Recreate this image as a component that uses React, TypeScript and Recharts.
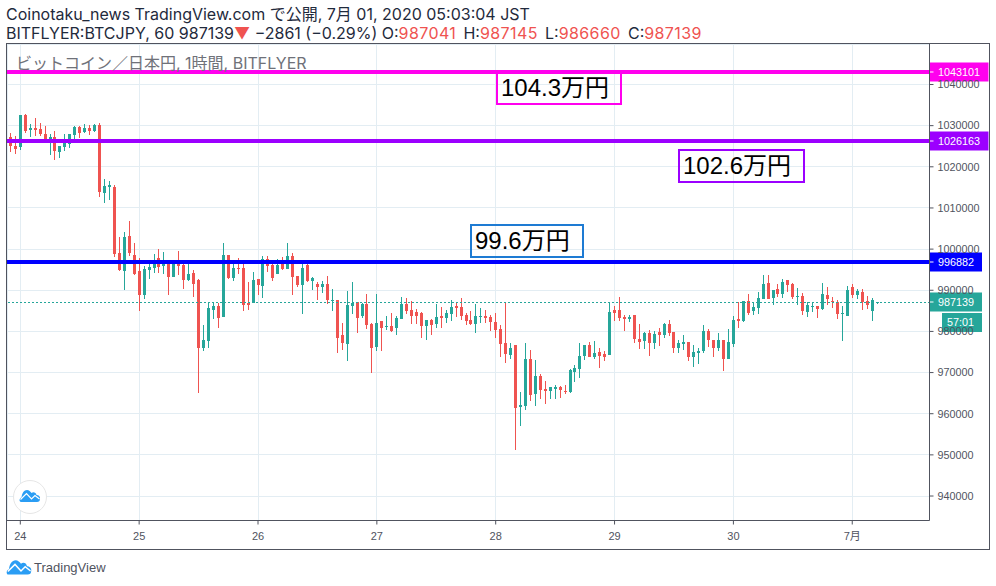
import {
  ComposedChart,
  Bar,
  XAxis,
  YAxis,
  CartesianGrid,
  ReferenceLine,
} from "recharts";

const FONT = '"Liberation Sans", "Noto Sans CJK JP", sans-serif';
const HEAD_FONT = 'Inter, "Noto Sans CJK JP", sans-serif';
const UP = "#26a69a";
const DOWN = "#ef5350";
const AXIS = "#50535e";

const firstHour = -3;

const opens = [
  1030650, 1027323, 1025133, 1024728, 1032675, 1029026, 1029513, 1029269, 1028053, 1026025,
  1027323, 1023673, 1024890, 1025620, 1027809, 1029756, 1028539, 1029513, 1028783, 1030242,
  1013698, 1015158, 1015158, 999100, 994721, 1003236, 998613, 994721, 988881, 994964,
  995451, 997884, 995937, 996586, 993261, 996586, 996180, 992531, 994234, 992531,
  975987, 977690, 985232, 986205, 983529, 998613, 993018, 995451, 995451, 986935,
  986935, 992774, 991071, 997640, 996180, 993991, 996586, 995207, 998370, 993504,
  991314, 996180, 992288, 991558, 990828, 991558, 987421, 987664, 979149, 976959,
  986205, 987178, 983772, 986691, 981825, 976229, 982555, 981095, 981339, 980852,
  983042, 986691, 985231, 984745, 984502, 981339, 982798, 981825, 983772, 983285,
  984258, 986205, 985961, 984015, 982798, 981825, 983528, 983772, 983528, 982312,
  980609, 977203, 974283, 976716, 961632, 961875, 973310, 964795, 969174, 966011,
  965525, 966011, 966498, 965525, 965281, 970147, 970877, 974040, 976716, 973797,
  975013, 974527, 974283, 985232, 985232, 983529, 983042, 984016, 978176, 977690,
  979636, 977203, 979879, 979150, 981826, 979879, 975987, 976960, 977446, 973797,
  974770, 975257, 980123, 977933, 975986, 977933, 973310, 976960, 983042, 982556,
  987422, 984989, 985719, 987908, 991801, 988152, 990341, 989125, 992531, 991558,
  988395, 988638, 984745, 985962, 986205, 985475, 988882, 987422, 987178, 984259,
  983772, 990828, 988882, 989611, 987422, 984989, 987041,
];

const highs = [
  1030650, 1028296, 1027566, 1032675, 1032919, 1030486, 1031946, 1030729, 1029999, 1028053,
  1028783, 1025133, 1028053, 1028053, 1029999, 1029999, 1030486, 1030242, 1030486, 1030729,
  1017104, 1016618, 1015644, 1002993, 1004209, 1006886, 1001533, 997884, 995937, 997397,
  998857, 1000073, 999343, 996910, 996910, 999587, 996586, 996586, 994964, 992774,
  981582, 987178, 987178, 986935, 1001533, 998613, 996586, 997884, 996586, 992044,
  994477, 992774, 998370, 998370, 996586, 997640, 998127, 1001533, 999100, 993504,
  996586, 996586, 993261, 992044, 992288, 993504, 990341, 987664, 982069, 989854,
  992125, 987178, 986935, 989124, 982069, 989124, 982555, 983772, 984502, 983772,
  988394, 988151, 987421, 985475, 984745, 982798, 983042, 986691, 985961, 985231,
  987664, 986935, 988151, 984502, 984988, 986691, 985718, 985231, 984015, 984502,
  981582, 987097, 977203, 976716, 965281, 977203, 975500, 973067, 969660, 967958,
  966498, 966985, 966741, 966985, 970877, 971850, 977203, 976716, 977446, 977690,
  975987, 975257, 987097, 986205, 988395, 984016, 984016, 984016, 981826, 979879,
  980366, 980123, 980853, 982069, 982799, 979879, 977933, 979149, 977446, 976716,
  975986, 981582, 980609, 977933, 979636, 977933, 980609, 983772, 987178, 987422,
  989125, 986935, 989611, 993747, 993747, 990098, 991558, 992774, 992531, 991801,
  990585, 989368, 987178, 987178, 986205, 991801, 990828, 988395, 987665, 986205,
  991071, 991558, 990341, 990341, 988638, 988152, 987145,
];

const lows = [
  1027000, 1023673, 1023187, 1024160, 1028296, 1027323, 1027566, 1027566, 1025863, 1022943,
  1021727, 1022214, 1023917, 1024647, 1026755, 1027080, 1028215, 1027809, 1028539, 1012725,
  1011265, 1011995, 998127, 994800, 990098, 998370, 993747, 984989, 987908, 992774,
  994234, 994234, 993991, 988881, 993261, 993747, 990341, 992288, 988395, 965038,
  975257, 975987, 983042, 980853, 983529, 992774, 992288, 993991, 984989, 985232,
  986935, 988881, 988152, 994477, 992288, 993991, 994964, 995207, 988881, 990828,
  984259, 992044, 990098, 987665, 989368, 986692, 984988, 974770, 975499, 972823,
  984258, 979636, 983285, 980609, 969904, 975256, 975256, 980365, 979879, 979149,
  983042, 984258, 981825, 981825, 978419, 977932, 979149, 980852, 980852, 982069,
  982555, 983528, 982798, 981582, 981582, 979636, 982069, 982069, 980122, 978419,
  973796, 972337, 973310, 951170, 957009, 960902, 963092, 961875, 963578, 962362,
  963578, 963578, 963822, 964795, 965038, 967714, 968688, 973067, 973797, 973310,
  971121, 972824, 974283, 982556, 982556, 980123, 982312, 977203, 975743, 975743,
  974040, 975743, 976473, 978420, 978906, 974770, 974770, 975500, 972824, 971364,
  972094, 974770, 976230, 973797, 975257, 970391, 973310, 976230, 980853, 982312,
  984016, 984016, 984259, 987908, 987908, 986449, 988395, 988152, 989611, 987908,
  986449, 984016, 983529, 984745, 983286, 985232, 986449, 985719, 983042, 977690,
  983772, 988152, 987908, 985232, 985475, 982556, 986660,
];

const closes = [
  1027000, 1024971, 1024403, 1032675, 1028783, 1029513, 1029026, 1028053, 1026593, 1027323,
  1023917, 1025133, 1025863, 1028053, 1029756, 1028296, 1029513, 1028783, 1030242, 1013941,
  1015401, 1015644, 998857, 994964, 1002993, 999100, 993991, 988881, 995207, 995694,
  996424, 995694, 996991, 993261, 996586, 995937, 992531, 993991, 991558, 975987,
  977933, 985719, 986205, 983286, 998613, 993018, 995451, 995207, 986448, 986448,
  992531, 991314, 997640, 995937, 993018, 996180, 995207, 998370, 993261, 991314,
  995451, 992288, 993018, 990828, 991558, 987665, 987664, 978419, 977203, 986448,
  986935, 983285, 986691, 981582, 975986, 982069, 980852, 981339, 980122, 983285,
  986691, 984988, 983772, 983772, 981339, 982798, 981582, 983528, 983285, 984502,
  985961, 985718, 983772, 982555, 981825, 983772, 983772, 983285, 982312, 980365,
  976959, 974527, 975987, 961389, 962118, 973310, 964552, 969174, 965768, 965525,
  966498, 966498, 965768, 965363, 970634, 971121, 974040, 976716, 973797, 974770,
  974040, 973797, 984745, 984502, 983286, 983042, 983529, 978176, 977446, 979636,
  977203, 979393, 979150, 981826, 979636, 975987, 977203, 977446, 973797, 975013,
  975257, 980123, 977933, 975986, 977933, 973310, 977446, 982799, 982556, 987422,
  984502, 985962, 988152, 991558, 987908, 990098, 989125, 992044, 991314, 988395,
  988638, 984989, 986449, 986205, 985475, 989125, 987908, 987178, 984259, 984502,
  990098, 988882, 989855, 987178, 986449, 987665, 987139,
];

const xTicks = [0, 24, 48, 72, 96, 120, 144, 168];
const xTickLabels = ["24", "25", "26", "27", "28", "29", "30", "7月"];
const yTicks = [
  940000, 950000, 960000, 970000, 980000, 990000, 1000000, 1010000, 1020000, 1030000, 1040000,
];

const levelPrices = [1043101, 1026163, 996882];
const levelColors = ["#ff00ee", "#9c00ff", "#0000ff"];
const lastPrice = 987139;
const countdown = "57:01";

const data = opens.map((open, i) => ({
  hour: firstHour + i,
  open,
  high: highs[i],
  low: lows[i],
  close: closes[i],
}));

function Candle(props: any) {
  const { x, y, width, height, payload } = props;
  const { open, high, low, close } = payload;
  const perPrice = height / (high - low);
  const top = y + (high - Math.max(open, close)) * perPrice;
  const bottom = y + (high - Math.min(open, close)) * perPrice;
  const color = close >= open ? UP : DOWN;
  const cx = Math.round(x + width / 2 - 0.5);
  return (
    <g shapeRendering="crispEdges">
      <rect x={cx} y={y} width={1} height={height} fill={color} />
      <rect x={cx - 1} y={top} width={3} height={Math.max(bottom - top, 1)} fill={color} />
    </g>
  );
}

function PriceTag({ viewBox, color, text, tagWidth, extra }: any) {
  const left = viewBox.x + viewBox.width;
  const cy = Math.round(viewBox.y);
  return (
    <g fontFamily={FONT} fontSize={10.8} fill="#fff">
      <rect x={left} y={cy - 9.5} width={tagWidth} height={19} fill={color} />
      <rect x={left} y={cy - 0.5} width={4} height={1} fill="#fff" />
      <text x={left + 8.5} y={cy + 4}>{text}</text>
      {extra && <rect x={left + 12.5} y={cy + 11} width={40} height={19} fill={color} />}
      {extra && <text x={left + 17.5} y={cy + 24}>{extra}</text>}
    </g>
  );
}

function Note({ left, top, width, height, color, text }: any) {
  return (
    <div
      style={{
        position: "absolute",
        left,
        top,
        width,
        height,
        boxSizing: "border-box",
        border: `2px solid ${color}`,
        color: "#000",
        fontSize: 24,
        lineHeight: `${height - 4}px`,
        paddingLeft: 3,
        whiteSpace: "nowrap",
      }}
    >
      {text}
    </div>
  );
}

function Cloud({ left, top, scale }: any) {
  return (
    <svg
      style={{ position: "absolute", left, top }}
      width={22 * scale}
      height={14 * scale}
      viewBox="0 0 22 14"
    >
      <path
        d="M2 13C0 13 0 9 2.5 8.5C3 4 5 1 8 1C10 1 11.5 2.5 12.5 4C14 2.5 17 3 17.5 6C20 6 21.5 8 21 10C21 12 20 13 18 13Z"
        fill="#2a9df4"
      />
      <path d="M1.5 10.5L7.5 4.5L12.5 10L16 6.5L20.5 10" fill="none" stroke="#fff" strokeWidth={1.2} />
    </svg>
  );
}

const ohlc = (s: string) => (
  <span style={{ color: DOWN, letterSpacing: 0.4, marginRight: 2.7 }}>{s}</span>
);

export default function App() {
  return (
    <div
      style={{
        position: "absolute",
        left: 0,
        top: 0,
        width: 996,
        height: 586,
        background: "#fff",
        fontFamily: FONT,
        overflow: "hidden",
      }}
    >
      <ComposedChart
        width={996}
        height={586}
        data={data}
        margin={{ left: 7, top: 44, right: 6.5, bottom: 37.5 }}
      >
        <CartesianGrid stroke="#e3edf3" shapeRendering="crispEdges" />
        <XAxis
          dataKey="hour"
          type="number"
          domain={[-2.686, 183.6]}
          allowDataOverflow
          ticks={xTicks}
          tickFormatter={(v) => xTickLabels[xTicks.indexOf(v)]}
          height={28}
          interval={0}
          stroke={AXIS}
          tick={{ fontSize: 11, fill: AXIS, fontFamily: FONT }}
          tickSize={4}
          tickMargin={8}
          tickLine={{ stroke: AXIS }}
        />
        <YAxis
          orientation="right"
          type="number"
          domain={[934052, 1049842]}
          allowDataOverflow
          ticks={yTicks}
          width={60}
          interval={0}
          stroke={AXIS}
          tick={{ fontSize: 10.8, fill: AXIS, fontFamily: FONT, dx: 2 }}
          tickSize={4}
          tickLine={{ stroke: AXIS }}
        />
        <Bar
          dataKey={(d: any) => [d.low, d.high]}
          barSize={3}
          shape={<Candle />}
          isAnimationActive={false}
        />
        {levelPrices.map((price, i) => (
          <ReferenceLine
            key={price}
            y={price}
            stroke={levelColors[i]}
            strokeWidth={4}
            shapeRendering="crispEdges"
            label={(p: any) => (
              <PriceTag {...p} color={levelColors[i]} text={String(price)} tagWidth={i < 2 ? 59 : 52.5} />
            )}
          />
        ))}
        <ReferenceLine
          y={lastPrice}
          stroke={UP}
          strokeDasharray="2 2"
          shapeRendering="crispEdges"
          label={(p: any) => (
            <PriceTag {...p} color={UP} text={String(lastPrice)} tagWidth={52.5} extra={countdown} />
          )}
        />
      </ComposedChart>

      <div style={{ position: "absolute", left: 6, top: 43, width: 984, height: 507, boxSizing: "border-box", border: `1px solid ${AXIS}`, pointerEvents: "none" }} />

      <div style={{ position: "absolute", left: 6, top: 5, fontFamily: HEAD_FONT, fontSize: 16, lineHeight: "19px", color: "#1f2a3c", whiteSpace: "nowrap" }}>
        Coinotaku_news TradingView.com で公開, 7月 01, 2020 05:03:04 JST
      </div>
      <div style={{ position: "absolute", left: 6, top: 23.5, fontFamily: HEAD_FONT, fontSize: 16, lineHeight: "19px", color: "#1f2a3c", whiteSpace: "nowrap" }}>
        BITFLYER:BTCJPY, 60 987139<span style={{ color: DOWN }}>▼</span> −2861 (−0.29%) O:{ohlc("987041")} H:{ohlc("987145")} L:{ohlc("986660")} C:{ohlc("987139")}
      </div>

      <div style={{ position: "absolute", left: 16, top: 54, fontFamily: HEAD_FONT, fontSize: 16, lineHeight: "18px", color: "#6f7179", whiteSpace: "nowrap" }}>
        ビットコイン／日本円, 1時間, BITFLYER
      </div>

      <Note left={496} top={71} width={126} height={34} color="#ff00ee" text="104.3万円" />
      <Note left={678} top={149} width={127} height={34} color="#9c00ff" text="102.6万円" />
      <Note left={470} top={224} width={114} height={34} color="#1e7bd3" text="99.6万円" />

      <div style={{ position: "absolute", left: 13, top: 480, width: 34, height: 34, boxSizing: "border-box", borderRadius: "50%", border: "1px solid #e6e6e6", background: "#fff" }} />
      <Cloud left={19} top={489} scale={1} />
      <Cloud left={6} top={559} scale={1.2} />
      <div style={{ position: "absolute", left: 34, top: 560, fontSize: 13, lineHeight: "16px", color: "#50535e" }}>TradingView</div>
    </div>
  );
}
